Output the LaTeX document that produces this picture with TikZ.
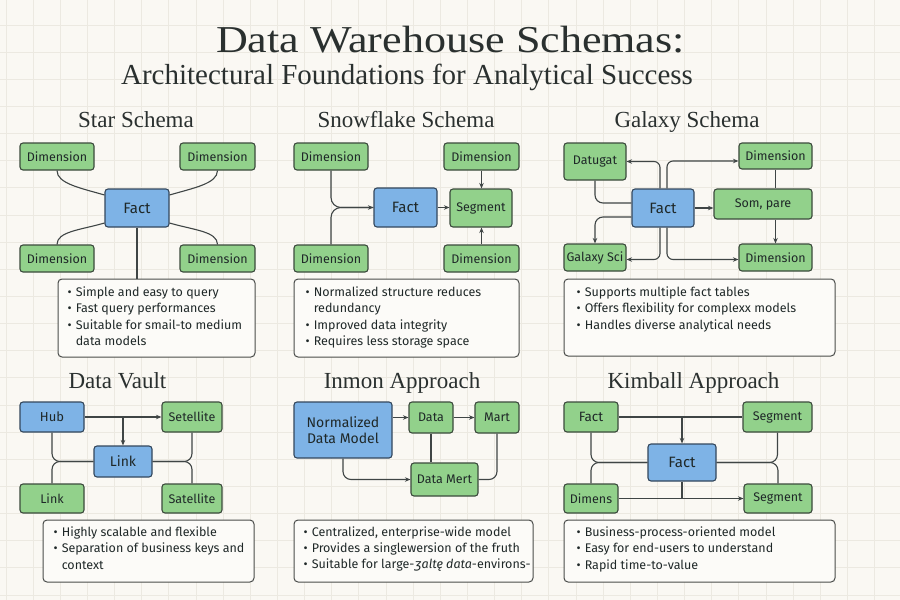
\documentclass[tikz,border=0pt]{standalone}
\usepackage{fontspec}
\setmainfont{Liberation Serif}
\newfontfamily\wideserif{Liberation Serif}[FakeStretch=1.16]
\newfontfamily\uisans{Fira Sans}
\newfontfamily\ipafont{DejaVu Sans}
\usetikzlibrary{arrows.meta}

\definecolor{bgc}{HTML}{FAF8F3}
\definecolor{gridc}{HTML}{ECE9E1}
\definecolor{gfill}{HTML}{92D18B}
\definecolor{gdraw}{HTML}{3B4A3C}
\definecolor{bfill}{HTML}{7EB3E6}
\definecolor{bdraw}{HTML}{33475C}
\definecolor{inkc}{HTML}{1F2828}
\definecolor{titlec}{HTML}{2A302F}
\definecolor{linec}{HTML}{3F4545}
\definecolor{noteFill}{HTML}{FCFBF8}
\definecolor{noteDraw}{HTML}{4A4C4A}

\tikzset{
 basebox/.style={rounded corners=3pt, line width=1.1pt, inner sep=0pt, text=inkc, font=\uisans\fontsize{12.5}{14}\selectfont},
 gbox/.style={basebox, fill=gfill, draw=gdraw},
 bbox/.style={basebox, fill=bfill, draw=bdraw, font=\uisans\fontsize{15}{17}\selectfont},
 notebox/.style={rounded corners=4pt, line width=1pt, fill=noteFill, draw=noteDraw, inner sep=0pt},
 notetext/.style={anchor=base west, inner sep=0pt, text=inkc, font=\uisans\fontsize{12.5}{16.4}\selectfont},
 conn/.style={draw=linec, line width=1.1pt},
 arr/.style={conn, -{Stealth[length=5.5pt,width=4.5pt]}},
 ttl/.style={text=titlec, inner sep=0pt, anchor=base, font=\fontsize{23}{26}\selectfont},
}

\newcommand\pbx[7]{\node[#1, minimum width={#5-#3}, minimum height={#6-#4}] (#2) at ({(#3+#5)/2},{(#4+#6)/2}) {#7};}
\newcommand\bl{\textbullet}

\begin{document}
\begin{tikzpicture}[x=1pt,y=-1pt]
\useasboundingbox (0,0) rectangle (900,600);
\fill[bgc] (0,0) rectangle (900,600);
\foreach \i in {0,...,33} { \draw[gridc, line width=0.8pt] ({6+27.14*\i},0) -- ++(0,600); }
\foreach \i in {0,...,21} { \draw[gridc, line width=0.8pt] (0,{25+27.14*\i}) -- ++(900,0); }

% titles
\node[text=titlec, anchor=base, inner sep=0pt, font=\wideserif\fontsize{38}{40}\selectfont] (title) at (450.5,52) {Data Warehouse Schemas:};
\node[text=titlec, anchor=base, inner sep=0pt, font=\fontsize{29}{32}\selectfont] (subtitle) at (407,84) {Architectural Foundations for Analytical Success};

\node[ttl] (t1) at (136,127.5) {Star Schema};
\node[ttl] (t2) at (406,127.5) {Snowflake Schema};
\node[ttl] (t3) at (687,127.5) {Galaxy Schema};
\node[ttl] (t4) at (117.5,388.5) {Data Vault};
\node[ttl] (t5) at (402,388.5) {Inmon Approach};
\node[ttl] (t6) at (693.5,388.5) {Kimball Approach};

% ---------- Star schema ----------
\pbx{gbox}{d1}{20}{143}{94}{170}{Dimension}
\pbx{gbox}{d2}{180}{143}{255}{170}{Dimension}
\pbx{bbox}{f1}{105}{189}{169}{227}{Fact}
\pbx{gbox}{d3}{20}{245}{94}{272}{Dimension}
\pbx{gbox}{d4}{180}{245}{255}{272}{Dimension}
\pbx{notebox}{sn1}{58}{279}{255}{357}{}
\draw[conn] (d1.south) .. controls +(0,13) and +(-24,-7) .. ([yshift=13pt]f1.west);
\draw[conn] (d2.south) .. controls +(0,13) and +(24,-7) .. ([yshift=13pt]f1.east);
\draw[conn] (d3.north) .. controls +(0,-13) and +(-24,7) .. ([yshift=-15pt]f1.west);
\draw[conn] (d4.north) .. controls +(0,-13) and +(24,7) .. ([yshift=-15pt]f1.east);
\draw[conn] (f1.south) -- (f1.south |- sn1.north);
\node[notetext] (sn1t) at ([shift={(10,18)}]sn1.north west) {\begin{tabular}[t]{@{}l@{\hspace{4pt}}l@{}}\bl & Simple and easy to query\\ \bl & Fast query performances\\ \bl & Suitable for smail-to medium\\ & data models\end{tabular}};

% ---------- Snowflake schema ----------
\pbx{gbox}{s1}{294}{143}{368}{170}{Dimension}
\pbx{gbox}{s2}{444}{143}{519}{170}{Dimension}
\pbx{bbox}{sf}{374}{188}{437}{227}{Fact}
\pbx{gbox}{sg}{450}{189}{512}{227}{Segment}
\pbx{gbox}{s3}{294}{245}{368}{272}{Dimension}
\pbx{gbox}{s4}{444}{245}{519}{272}{Dimension}
\pbx{notebox}{sn2}{294}{279}{519}{357}{}
\draw[conn, rounded corners=10pt] (s1.south) |- (sf.west);
\draw[arr, rounded corners=10pt] (s3.north) |- (sf.west);
\draw[arr] (sf.east) -- (sf.east -| sg.west);
\draw[arr] (s2.south) -- (s2.south |- sg.north);
\draw[arr] (s4.north) -- (s4.north |- sg.south);
\node[notetext] (sn2t) at ([shift={(12,18)}]sn2.north west) {\begin{tabular}[t]{@{}l@{\hspace{4pt}}l@{}}\bl & Normalized structure reduces\\ & redundancy\\ \bl & Improved data integrity\\ \bl & Requires less storage space\end{tabular}};

% ---------- Galaxy schema ----------
\pbx{gbox}{gd}{564}{143}{626}{180}{Datugat}
\pbx{gbox}{g1}{739}{143}{812}{169}{Dimension}
\pbx{bbox}{gf}{632}{189}{694}{227}{Fact}
\pbx{gbox}{gs}{714}{189}{812}{219}{Som, pare}
\pbx{gbox}{gg}{564}{244}{626}{271}{Galaxy Sci}
\pbx{gbox}{g2}{739}{244}{812}{271}{Dimension}
\pbx{notebox}{gn}{564}{279}{835}{356}{}
\draw[arr, rounded corners=6pt] ([xshift=-3pt]gf.north) |- (gd.east);
\draw[arr, rounded corners=6pt] ([xshift=4pt]gf.north) |- ([yshift=-5pt]g1.west);
\draw[conn, rounded corners=8pt] (gd.south) |- ([yshift=5pt]gf.west);
\draw[arr, rounded corners=8pt] ([yshift=-9pt]gf.west) -| (gg.north);
\draw[arr, rounded corners=6pt] ([xshift=-3pt]gf.south) |- ([yshift=-2pt]gg.east);
\draw[arr, rounded corners=6pt] ([xshift=4pt]gf.south) |- ([yshift=-2pt]g2.west);
\draw[arr] (gf.east) -- (gf.east -| gs.west);
\draw[conn] (g1.south) -- (g1.south |- gs.north);
\draw[arr] (gs.south -| g1.south) -- (g2.north);
\node[notetext] (gnt) at ([shift={(13,18)}]gn.north west) {\begin{tabular}[t]{@{}l@{\hspace{4pt}}l@{}}\bl & Supports multiple fact tables\\ \bl & Offers flexibility for complexx models\\ \bl & Handles diverse analytical needs\end{tabular}};

% ---------- Data Vault ----------
\pbx{bbox, font=\uisans\fontsize{13}{15}\selectfont}{vh}{20}{402}{84}{432}{Hub}
\pbx{gbox}{vs1}{162}{402}{222}{432}{Setellite}
\pbx{bbox, font=\uisans\fontsize{14}{16}\selectfont}{vl}{94}{446}{152}{477}{Link}
\pbx{gbox}{vl2}{20}{484}{84}{513}{Link}
\pbx{gbox}{vs2}{162}{484}{222}{513}{Satellite}
\pbx{notebox}{vn}{43}{520}{254}{582}{}
\draw[arr] (vh.east) -- (vh.east -| vs1.west);
\draw[arr] (vh.east -| vl.north) -- (vl.north);
\draw[conn, rounded corners=8pt] (vh.south) |- (vl.west);
\draw[conn, rounded corners=8pt] (vl2.north) |- (vl.west);
\draw[conn, rounded corners=8pt] (vs1.south) |- (vl.east);
\draw[conn, rounded corners=8pt] (vs2.north) |- (vl.east);
\node[notetext] (vnt) at ([shift={(11,17)}]vn.north west) {\begin{tabular}[t]{@{}l@{\hspace{4pt}}l@{}}\bl & Highly scalable and flexible\\ \bl & Separation of business keys and\\ & context\end{tabular}};

% ---------- Inmon ----------
\pbx{bbox, font=\uisans\fontsize{14}{16}\selectfont, align=center}{ndm}{294}{402}{392}{458}{Normalized\\Data Model}
\pbx{gbox}{id}{409}{402}{453}{433}{Data}
\pbx{gbox}{im}{475}{402}{519}{433}{Mart}
\pbx{gbox}{idm}{411}{463}{478}{496}{Data Mert}
\pbx{notebox}{inn}{294}{520}{533}{582}{}
\draw[arr] (ndm.east |- id.west) -- (id.west);
\draw[arr] (id.east) -- (im.west);
\draw[conn] (id.south) -- (id.south |- idm.north);
\draw[conn, rounded corners=8pt] (im.south) |- (idm.east);
\draw[arr, rounded corners=8pt] (ndm.south) |- (idm.west);
\node[notetext] (innt) at ([shift={(10,16.5)}]inn.north west) {\begin{tabular}[t]{@{}l@{\hspace{4pt}}l@{}}\bl & Centralized, enterprise-wide model\\ \bl & Provides a singlewersion of the fruth\\ \bl & Suitable for large-{\itshape{\ipafont ʒ}altę data}-environs-\end{tabular}};

% ---------- Kimball ----------
\pbx{gbox, font=\uisans\fontsize{13.5}{15}\selectfont}{kf1}{564}{402}{618}{432}{Fact}
\pbx{gbox}{ks1}{743}{402}{812}{432}{Segment}
\pbx{bbox}{kf}{648}{444}{716}{481}{Fact}
\pbx{gbox}{kd}{564}{484}{618}{513}{Dimens}
\pbx{gbox}{ks2}{744}{484}{812}{513}{Segment}
\pbx{notebox}{kn}{564}{520}{835}{582}{}
\draw[conn] (kf1.east) -- (kf1.east -| ks1.west);
\draw[arr] (kf1.east -| kf.north) -- (kf.north);
\draw[conn, rounded corners=8pt] (kf1.south) |- (kf.west);
\draw[conn, rounded corners=8pt] (kd.north) |- (kf.west);
\draw[conn, rounded corners=8pt] (ks1.south) |- (kf.east);
\draw[conn, rounded corners=8pt] (ks2.north) |- (kf.east);
\draw[arr] (kd.east) -- (kd.east -| ks2.west);
\draw[conn] (kf.south) -- (kf.south |- kd.east);
\node[notetext] (knt) at ([shift={(13,17)}]kn.north west) {\begin{tabular}[t]{@{}l@{\hspace{4pt}}l@{}}\bl & Business-process-oriented model\\ \bl & Easy for end-users to understand\\ \bl & Rapid time-to-value\end{tabular}};
\end{tikzpicture}
\end{document}
